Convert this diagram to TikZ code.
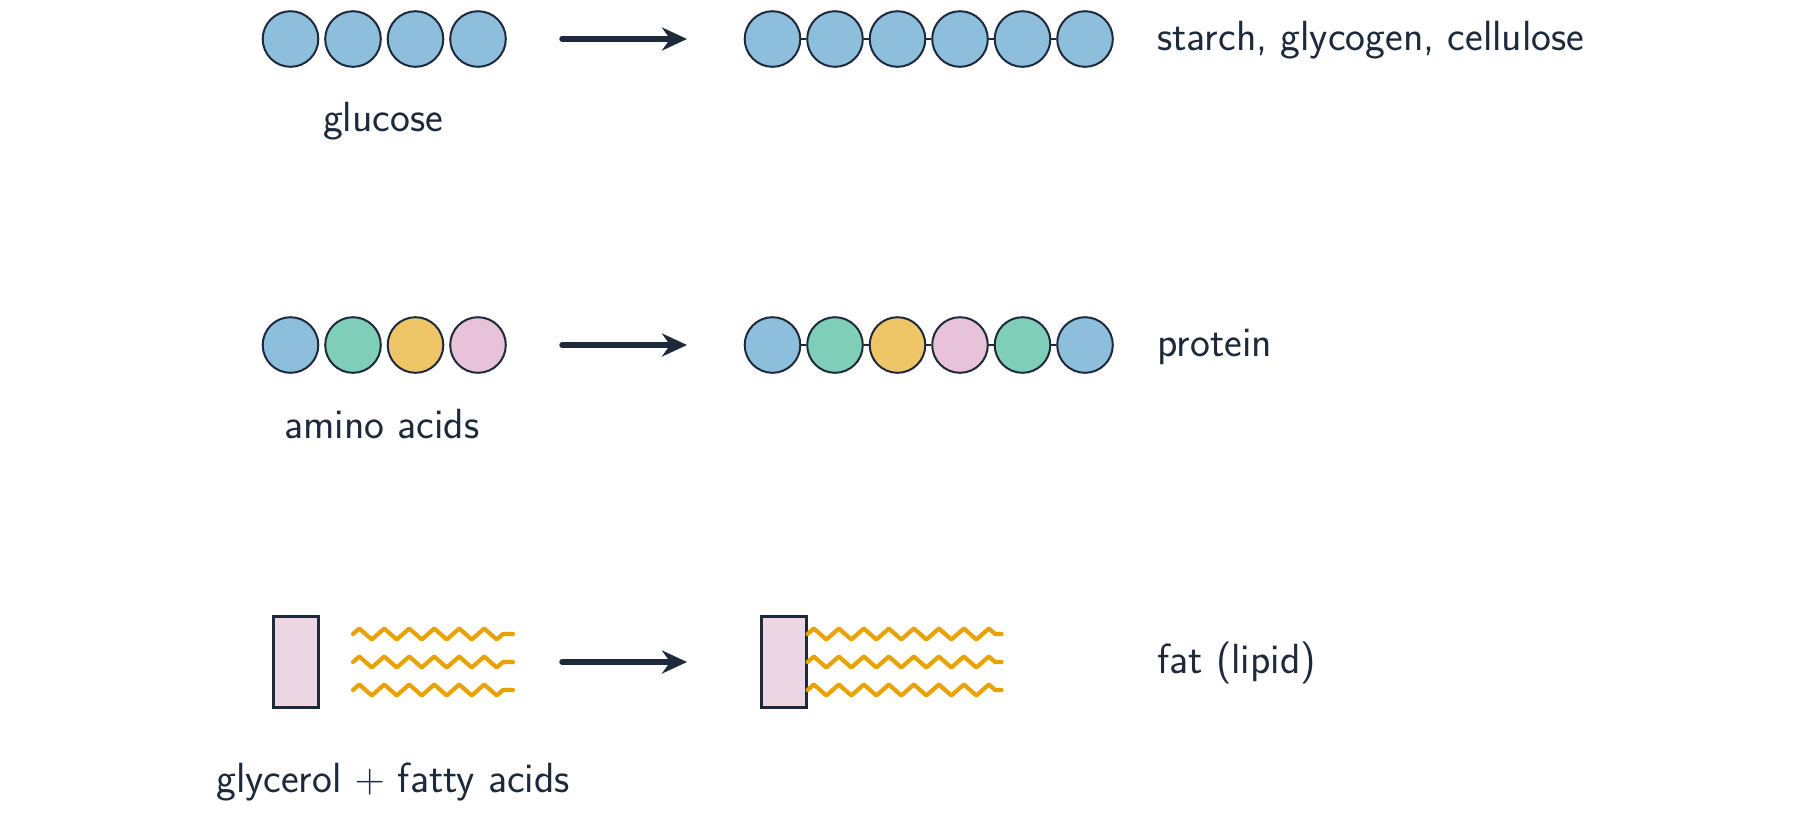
\documentclass[tikz,border=0pt]{standalone}
\usepackage{tikz}
\usetikzlibrary{arrows.meta}
\definecolor{ink}{HTML}{1E293B}
\definecolor{sugar}{HTML}{8DBFDC}
\definecolor{mint}{HTML}{7FCEB8}
\definecolor{sand}{HTML}{EEC567}
\definecolor{rose}{HTML}{E7C2D8}
\definecolor{glycfill}{HTML}{ECD6E4}
\definecolor{fatty}{HTML}{E8A202}
\tikzset{
  mono/.style={circle, draw=ink, line width=1pt, minimum size=27.8pt, inner sep=0pt},
  bond/.style={draw=ink, line width=1pt},
  rxn/.style={draw=ink, line width=2.7pt, line cap=round, -{Stealth[length=12.5pt,width=11.5pt]}},
  chain/.style={draw=fatty, line width=2.1pt, line join=round, line cap=round},
  glyc/.style={rectangle, draw=ink, fill=glycfill, line width=1.1pt, minimum width=22.5pt, minimum height=45.5pt, inner sep=0pt},
  lbl/.style={text=ink, font=\sffamily\fontsize{21.1}{25}\selectfont, inner sep=0pt}
}

\begin{document}
\begin{tikzpicture}[x=0.5pt, y=-0.5pt]
\useasboundingbox (0,0) rectangle (1800,821);

% carbohydrates
\foreach \c [count=\i] in {sugar,sugar,sugar,sugar}
  \node[mono, fill=\c] (g\i) at ({290.5+62.5*(\i-1)},39) {};
\foreach \c [count=\i] in {sugar,sugar,sugar,sugar,sugar,sugar}
  \node[mono, fill=\c] (s\i) at ({772.5+62.5*(\i-1)},39) {};
\foreach \i [evaluate=\i as \j using int(\i+1)] in {1,...,5}
  \draw[bond] (s\i) -- (s\j);
\coordinate (r1a) at (562,39);
\coordinate (r1b) at (687,39);
\draw[rxn] (r1a) -- (r1b);
\node[lbl, anchor=base] (glucose) at (383,131) {glucose};
\node[lbl, anchor=base west] (poly) at (1157,50) {starch, glycogen, cellulose};

% proteins
\foreach \c [count=\i] in {sugar,mint,sand,rose}
  \node[mono, fill=\c] (a\i) at ({290.5+62.5*(\i-1)},345) {};
\foreach \c [count=\i] in {sugar,mint,sand,rose,mint,sugar}
  \node[mono, fill=\c] (p\i) at ({772.5+62.5*(\i-1)},345) {};
\foreach \i [evaluate=\i as \j using int(\i+1)] in {1,...,5}
  \draw[bond] (p\i) -- (p\j);
\coordinate (r2a) at (562,345);
\coordinate (r2b) at (687,345);
\draw[rxn] (r2a) -- (r2b);
\node[lbl, anchor=base] (amino) at (382,438) {amino acids};
\node[lbl, anchor=base west] (protein) at (1157,356) {protein};

% lipids
\node[glyc] (gly) at (296,662) {};
\foreach \y in {634,662,690}
  \draw[chain] (353,\y) foreach \k in {1,...,6} { -- ++(6.25,-5.5) -- ++(12.5,11) -- ++(6.25,-5.5) } -- ++(10,0);
\node[glyc] (fat) at (784,662) {};
\foreach \s in {14,0,-14}
  \draw[chain] ([yshift=\s pt]fat.east) foreach \k in {1,...,7} { -- ++(6.25,-5.5) -- ++(12.5,11) -- ++(6.25,-5.5) }
    -- ++(6.25,-5.5) -- ++(6.25,5.5) -- ++(6.5,0);
\coordinate (r3a) at (562,662);
\coordinate (r3b) at (687,662);
\draw[rxn] (r3a) -- (r3b);
\node[lbl, anchor=base] (glyfa) at (393,792) {glycerol $+$ fatty acids};
\node[lbl, anchor=base west] (lipid) at (1157,673) {fat (lipid)};
\end{tikzpicture}
\end{document}
